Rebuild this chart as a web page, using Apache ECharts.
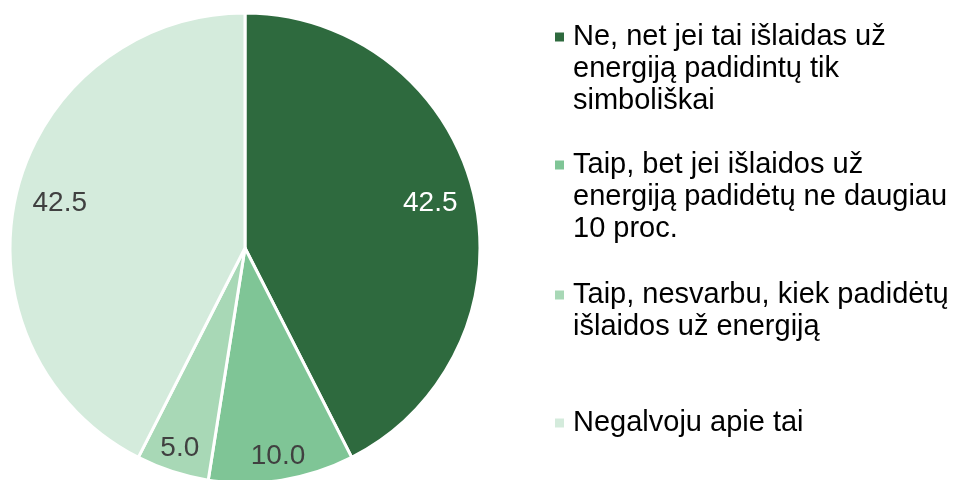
<!DOCTYPE html>
<html>
<head>
<meta charset="utf-8">
<script src="https://cdn.jsdelivr.net/npm/echarts@6/dist/echarts.min.js"></script>
<style>
  html, body { margin: 0; padding: 0; background: #fff; }
  #chart { width: 960px; height: 480px; }
</style>
</head>
<body>
<div id="chart"></div>
<script>
var categories = [
    'Ne, net jei tai išlaidas už\nenergiją padidintų tik\nsimboliškai',
    'Taip, bet jei išlaidos už\nenergiją padidėtų ne daugiau\n10 proc.',
    'Taip, nesvarbu, kiek padidėtų\nišlaidos už energiją',
    'Negalvoju apie tai'
];
var values = [42.5, 10.0, 5.0, 42.5];
var colors = ['#2e6a3e', '#7fc596', '#a8d8b6', '#d4ebdc'];
var labelColors = ['#ffffff', '#404040', '#404040', '#404040'];
var legendIconY = [37, 165, 295, 423];  // centre of first legend line

var LINE_H = 32;
var FONT = '"Liberation Sans", Arial, sans-serif';

var myChart = echarts.init(document.getElementById('chart'));

var pieData = categories.map(function (name, i) {
    return { name: name, value: values[i], itemStyle: { color: colors[i] } };
});

// transparent ring just for the value labels
function labelRing(inner, big) {
    return {
        type: 'pie',
        center: [245, 248],
        radius: [inner, 235],
        startAngle: 90,
        silent: true,
        legendHoverLink: false,
        itemStyle: { color: 'transparent' },
        labelLine: { show: false },
        data: categories.map(function (name, i) {
            return {
                name: name,
                value: values[i],
                label: {
                    show: big ? values[i] >= 20 : values[i] < 20,
                    position: 'inside',
                    color: labelColors[i],
                    fontSize: 28,
                    fontFamily: FONT,
                    formatter: function (p) { return p.value.toFixed(1); }
                }
            };
        })
    };
}

// one legend per item so the uneven spacing can be kept;
// blank lines in front keep the marker level with the first text line
var legends = categories.map(function (name, i) {
    var n = name.split('\n').length;
    return {
        orient: 'vertical',
        left: 553,
        top: legendIconY[i] - (2 * n - 1) * LINE_H / 2,
        padding: 0,
        selectedMode: false,
        icon: 'rect',
        itemWidth: 11,
        itemHeight: 11,
        data: [name],
        formatter: function (s) {
            return new Array(n).join('\n') + s;
        },
        textStyle: {
            fontSize: 29,
            lineHeight: LINE_H,
            fontFamily: FONT,
            color: '#000',
            padding: [0, 0, 0, 3]
        }
    };
});

var option = {
    backgroundColor: '#fff',
    animation: false,
    legend: legends,
    series: [
        {
            type: 'pie',
            center: [245, 248],
            radius: 235,
            startAngle: 90,
            label: { show: false },
            labelLine: { show: false },
            itemStyle: { borderColor: '#fff', borderWidth: 3 },
            emphasis: { disabled: true },
            data: pieData
        },
        labelRing(140, true),
        labelRing(181, false)
    ]
};

myChart.setOption(option);
window.addEventListener('resize', function () {
    myChart.resize();
});
</script>
</body>
</html>
